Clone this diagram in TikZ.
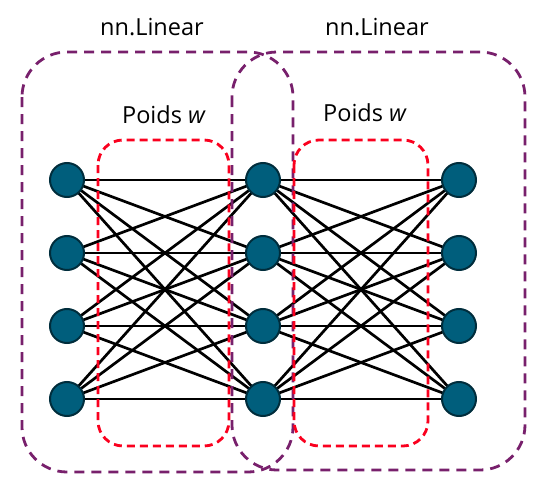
\documentclass[tikz,border=0pt]{standalone}
\usepackage{fontspec}
\setmainfont{Open Sans}
\definecolor{neuronfill}{RGB}{0,94,124}
\definecolor{neurondraw}{RGB}{0,45,60}
\definecolor{layerpurple}{RGB}{120,32,108}
\definecolor{weightred}{RGB}{250,0,30}
\tikzset{
    neuron/.style={circle,fill=neuronfill,draw=neurondraw,line width=2pt,minimum size=34pt,inner sep=0pt},
    weight/.style={black,line width=2.7pt},
    layerbox/.style={layerpurple,line width=2.8pt,dash pattern=on 10pt off 7pt,rounded corners=45pt},
    weightbox/.style={weightred,line width=2.8pt,dash pattern=on 8pt off 5pt,rounded corners=25pt},
    boxlabel/.style={font=\fontsize{23.5}{28}\selectfont}
}
\begin{document}
\begin{tikzpicture}[x=1pt,y=-1pt]
    \useasboundingbox (0,0) rectangle (550,490);

    % neurons of the three layers
    \foreach \i/\y in {0/180,1/253,2/326,3/399}{
        \coordinate (in\i) at (67,\y);
        \coordinate (hid\i) at (263,\y);
        \coordinate (out\i) at (459,\y);
    }

    % fully connected weights
    \foreach \i in {0,...,3}{
        \foreach \j in {0,...,3}{
            \draw[weight] (in\i) -- (hid\j);
            \draw[weight] (hid\i) -- (out\j);
        }
    }

    % boxes
    \draw[layerbox] (22,52) rectangle (293,472);
    \draw[layerbox] (232,52) rectangle (525,470);
    \draw[weightbox] (98,140) rectangle (229,446);
    \draw[weightbox] (294,140) rectangle (428,446);

    % neurons on top
    \foreach \i in {0,...,3}{
        \node[neuron] at (in\i) {};
        \node[neuron] at (hid\i) {};
        \node[neuron] at (out\i) {};
    }

    \node[boxlabel] (lin1) at (152,27) {nn.Linear};
    \node[boxlabel] (lin2) at (377,27) {nn.Linear};
    \node[boxlabel] (poids1) at (164,115) {Poids \textit{w}};
    \node[boxlabel] (poids2) at (365,113) {Poids \textit{w}};
\end{tikzpicture}
\end{document}
